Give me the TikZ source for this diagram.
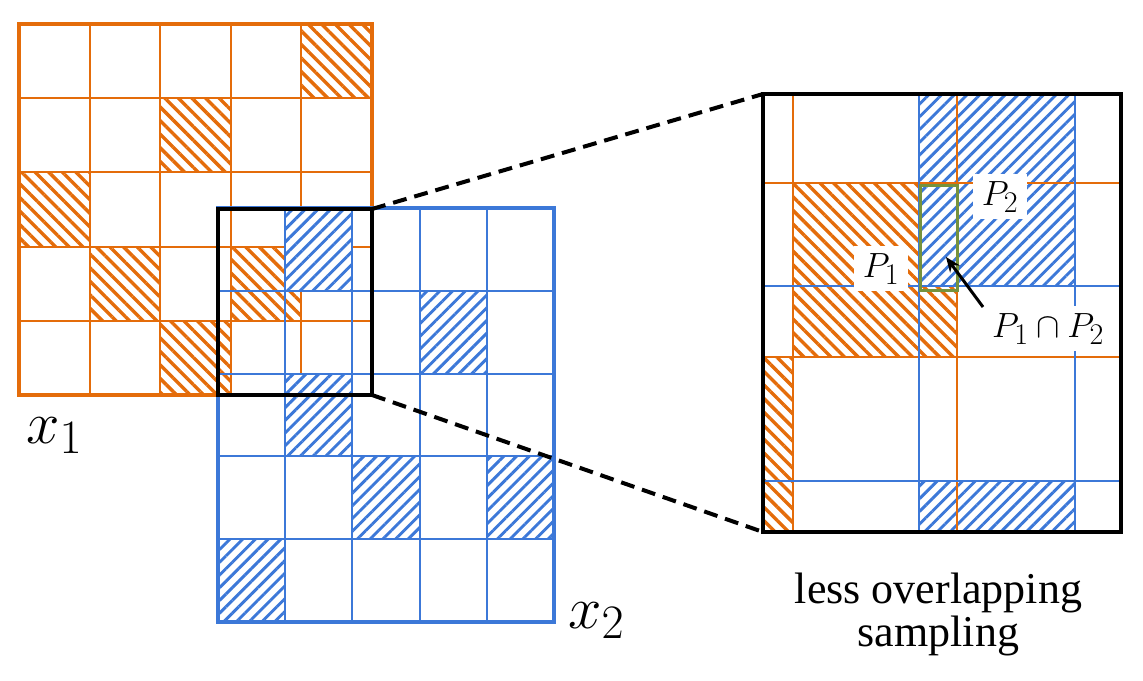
\RequirePackage{fix-cm}
\documentclass[tikz,border=0pt]{standalone}
\usepackage[no-math]{fontspec}
\setmainfont{Liberation Serif}
\usetikzlibrary{patterns.meta,arrows.meta}
\definecolor{org}{RGB}{228,108,10}
\definecolor{blu}{RGB}{60,120,216}
\definecolor{grn}{RGB}{118,146,60}
\DeclareMathSizes{60}{60}{48}{36}
\DeclareMathSizes{35}{35}{30}{22}
\tikzset{
  ohatch/.style={pattern={Lines[angle=-45,distance=9.6pt,line width=3.4pt]},pattern color=org},
  bhatch/.style={preaction={fill=white},pattern={Lines[angle=45,distance=9pt,line width=2.9pt]},pattern color=blu},
  oline/.style={draw=org,line width=2pt},
  bline/.style={draw=blu,line width=2pt},
  boxn/.style={draw=black,line width=4.5pt,inner sep=0pt,outer sep=0pt,anchor=north west},
  dashln/.style={draw=black,line width=4pt,dash pattern=on 14pt off 8pt},
  plabel/.style={fill=white,inner xsep=9pt,inner ysep=7pt,font=\fontsize{35}{42}\selectfont,anchor=base},
  biglabel/.style={inner sep=0pt,anchor=base west,font=\fontsize{60}{72}\selectfont},
  pointer/.style={draw=black,line width=3pt,-{Stealth[length=15pt,width=12pt]}}
}
\newcommand\orgHatch{%
  \foreach \r/\c in {0/4,1/2,2/0,3/1,3/3,4/2}
    \path[ohatch] (19+\c*70.6,24+\r*74.2) rectangle ++(70.6,74.2);}
\newcommand\orgLines{%
  \foreach \i in {1,...,4} {
    \draw[oline] (19+\i*70.6,24) -- (19+\i*70.6,395);
    \draw[oline] (19,24+\i*74.2) -- (372,24+\i*74.2);}
  \draw[oline,line width=4pt] (19,24) rectangle (372,395);}
\newcommand\bluHatch{%
  \foreach \r/\c in {0/1,1/3,2/1,3/2,3/4,4/0}
    \path[bhatch] (217.7+\c*67.3,207.7+\r*82.9) rectangle ++(67.3,82.9);}
\newcommand\bluLines{%
  \foreach \i in {1,...,4} {
    \draw[bline] (217.7+\i*67.3,207.7) -- (217.7+\i*67.3,622.2);
    \draw[bline] (217.7,207.7+\i*82.9) -- (554.2,207.7+\i*82.9);}
  \draw[bline,line width=4pt] (217.7,207.7) rectangle (554.2,622.2);}
\begin{document}
\begin{tikzpicture}[x=1pt,y=-1pt]
\useasboundingbox (0,0) rectangle (1143,680);
% original grids
\orgHatch
\orgLines
\bluHatch
\bluLines
% zoomed view
\begin{scope}
  \clip (763,94) rectangle (1121,532);
  \begin{scope}[shift={(763,94)},xscale=2.3247,yscale=2.3548,shift={(-218,-209)}]
    \orgHatch
    \bluHatch
    \orgLines
    \bluLines
  \end{scope}
\end{scope}
\node[draw=grn,line width=3pt,inner sep=0pt,outer sep=0pt,minimum width=37pt,minimum height=105pt,anchor=north west] (inter) at (920,185) {};
\node[plabel] (p1) at (881,277) {$P_1$};
\node[plabel] (p2) at (1000,205) {$P_2$};
\node[plabel] (p12) at (1048,337) {$P_1\cap P_2$};
\coordinate (astart) at (983,307);
\coordinate (atip) at (946,257);
\draw[pointer] (astart) -- (atip);
% boxes
\node[boxn,minimum width=154pt,minimum height=186pt] (small) at (218,209) {};
\node[boxn,minimum width=358pt,minimum height=438pt] (big) at (763,94) {};
\draw[dashln] (small.north east) -- (big.north west);
\draw[dashln] (small.south east) -- (big.south west);
% labels
\node[biglabel] (x1) at (26,443) {$x_1$};
\node[biglabel] (x2) at (568,628) {$x_2$};
\node[inner sep=0pt,anchor=north,align=center,font=\rmfamily\fontsize{44}{43}\selectfont] (cap) at (938.5,573) {less overlapping\\sampling};
\end{tikzpicture}
\end{document}
